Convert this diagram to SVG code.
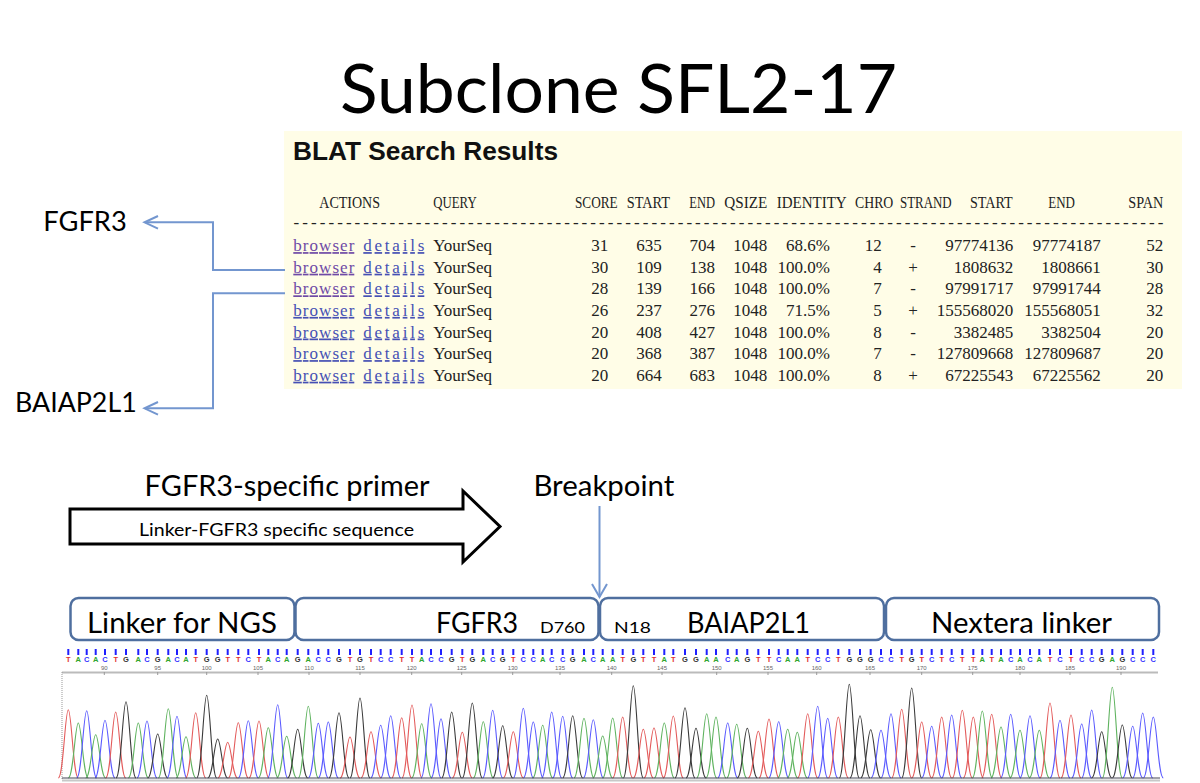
<svg xmlns="http://www.w3.org/2000/svg" xmlns:xlink="http://www.w3.org/1999/xlink" width="1200" height="783" viewBox="0 0 1200 783">
<style>
.cal{font-family:Lato,"Liberation Sans",sans-serif;fill:#000}
.tb{font-family:"Liberation Serif","Times New Roman",serif;font-size:17px;fill:#222}
.r{text-anchor:end}
.m{text-anchor:middle}
.lv{fill:#6f4aa6;text-decoration:underline}
.lb{fill:#4650b4;text-decoration:underline}
.conn{fill:none;stroke:#7396cf;stroke-width:2}
.box{fill:#fff;stroke:#4f6f9f;stroke-width:2.5}
.pa{stroke:#5fb35f}.pc{stroke:#5a5aff}.pg{stroke:#3a3a3a}.pt{stroke:#e35a5a}
.sq{font-family:"Liberation Sans",sans-serif;font-size:7.5px;font-weight:bold;text-anchor:middle}
.num{font-family:"Liberation Sans",sans-serif;font-size:6px;fill:#666;text-anchor:middle}
</style>
<defs>
<path id="pk" d="M-10 0C-5 0-3.2-1 0-1C3.2-1 5 0 10 0" fill="none" stroke-width="1.1" vector-effect="non-scaling-stroke"/>
</defs>
<rect width="1200" height="783" fill="#fff"/>

<g id="title"><text class="cal" x="340" y="113" font-size="68" textLength="557" lengthAdjust="spacingAndGlyphs">Subclone SFL2-17</text></g>

<g id="blat-table">
<rect x="284" y="131" width="898" height="258" fill="#fffde7"/>
<text x="293" y="160" font-family="Liberation Sans,Arial,sans-serif" font-weight="bold" font-size="25" fill="#111" textLength="265" lengthAdjust="spacingAndGlyphs">BLAT Search Results</text>
<g class="tb">
<text y="207.5" x="319.3" textLength="60.7" lengthAdjust="spacingAndGlyphs">ACTIONS</text>
<text y="207.5" x="433.3" textLength="43.4" lengthAdjust="spacingAndGlyphs">QUERY</text>
<text y="207.5" x="575" textLength="42.7" lengthAdjust="spacingAndGlyphs">SCORE</text>
<text y="207.5" x="626.7" textLength="43.3" lengthAdjust="spacingAndGlyphs">START</text>
<text y="207.5" x="689.3" textLength="25.7" lengthAdjust="spacingAndGlyphs">END</text>
<text y="207.5" x="724.3" textLength="43" lengthAdjust="spacingAndGlyphs">QSIZE</text>
<text y="207.5" x="776.7" textLength="70" lengthAdjust="spacingAndGlyphs">IDENTITY</text>
<text y="207.5" x="855" textLength="38.3" lengthAdjust="spacingAndGlyphs">CHRO</text>
<text y="207.5" x="900" textLength="51.7" lengthAdjust="spacingAndGlyphs">STRAND</text>
<text y="207.5" x="970" textLength="42.7" lengthAdjust="spacingAndGlyphs">START</text>
<text y="207.5" x="1048.3" textLength="26.7" lengthAdjust="spacingAndGlyphs">END</text>
<text y="207.5" x="1128.3" textLength="35" lengthAdjust="spacingAndGlyphs">SPAN</text>
<text y="228" x="293.5" textLength="870">----------------------------------------------------------------------------------------------------</text>
</g>
<g class="tb">
<text y="251.1"><tspan x="293.3" class="lv" textLength="61">browser</tspan><tspan x="363.3" class="lb" textLength="61">details</tspan><tspan x="433.3">YourSeq</tspan><tspan class="r" x="608.3">31</tspan><tspan class="r" x="661.7">635</tspan><tspan class="r" x="715">704</tspan><tspan class="r" x="767.3">1048</tspan><tspan class="r" x="830">68.6%</tspan><tspan class="r" x="881.7">12</tspan><tspan class="m" x="913">-</tspan><tspan class="r" x="1013.3">97774136</tspan><tspan class="r" x="1100.7">97774187</tspan><tspan class="r" x="1163.3">52</tspan></text>
<text y="272.7"><tspan x="293.3" class="lv" textLength="61">browser</tspan><tspan x="363.3" class="lb" textLength="61">details</tspan><tspan x="433.3">YourSeq</tspan><tspan class="r" x="608.3">30</tspan><tspan class="r" x="661.7">109</tspan><tspan class="r" x="715">138</tspan><tspan class="r" x="767.3">1048</tspan><tspan class="r" x="830">100.0%</tspan><tspan class="r" x="881.7">4</tspan><tspan class="m" x="913">+</tspan><tspan class="r" x="1013.3">1808632</tspan><tspan class="r" x="1100.7">1808661</tspan><tspan class="r" x="1163.3">30</tspan></text>
<text y="294.3"><tspan x="293.3" class="lv" textLength="61">browser</tspan><tspan x="363.3" class="lb" textLength="61">details</tspan><tspan x="433.3">YourSeq</tspan><tspan class="r" x="608.3">28</tspan><tspan class="r" x="661.7">139</tspan><tspan class="r" x="715">166</tspan><tspan class="r" x="767.3">1048</tspan><tspan class="r" x="830">100.0%</tspan><tspan class="r" x="881.7">7</tspan><tspan class="m" x="913">-</tspan><tspan class="r" x="1013.3">97991717</tspan><tspan class="r" x="1100.7">97991744</tspan><tspan class="r" x="1163.3">28</tspan></text>
<text y="315.9"><tspan x="293.3" class="lb" textLength="61">browser</tspan><tspan x="363.3" class="lb" textLength="61">details</tspan><tspan x="433.3">YourSeq</tspan><tspan class="r" x="608.3">26</tspan><tspan class="r" x="661.7">237</tspan><tspan class="r" x="715">276</tspan><tspan class="r" x="767.3">1048</tspan><tspan class="r" x="830">71.5%</tspan><tspan class="r" x="881.7">5</tspan><tspan class="m" x="913">+</tspan><tspan class="r" x="1013.3">155568020</tspan><tspan class="r" x="1100.7">155568051</tspan><tspan class="r" x="1163.3">32</tspan></text>
<text y="337.5"><tspan x="293.3" class="lb" textLength="61">browser</tspan><tspan x="363.3" class="lb" textLength="61">details</tspan><tspan x="433.3">YourSeq</tspan><tspan class="r" x="608.3">20</tspan><tspan class="r" x="661.7">408</tspan><tspan class="r" x="715">427</tspan><tspan class="r" x="767.3">1048</tspan><tspan class="r" x="830">100.0%</tspan><tspan class="r" x="881.7">8</tspan><tspan class="m" x="913">-</tspan><tspan class="r" x="1013.3">3382485</tspan><tspan class="r" x="1100.7">3382504</tspan><tspan class="r" x="1163.3">20</tspan></text>
<text y="359.1"><tspan x="293.3" class="lb" textLength="61">browser</tspan><tspan x="363.3" class="lb" textLength="61">details</tspan><tspan x="433.3">YourSeq</tspan><tspan class="r" x="608.3">20</tspan><tspan class="r" x="661.7">368</tspan><tspan class="r" x="715">387</tspan><tspan class="r" x="767.3">1048</tspan><tspan class="r" x="830">100.0%</tspan><tspan class="r" x="881.7">7</tspan><tspan class="m" x="913">-</tspan><tspan class="r" x="1013.3">127809668</tspan><tspan class="r" x="1100.7">127809687</tspan><tspan class="r" x="1163.3">20</tspan></text>
<text y="380.7"><tspan x="293.3" class="lb" textLength="61">browser</tspan><tspan x="363.3" class="lb" textLength="61">details</tspan><tspan x="433.3">YourSeq</tspan><tspan class="r" x="608.3">20</tspan><tspan class="r" x="661.7">664</tspan><tspan class="r" x="715">683</tspan><tspan class="r" x="767.3">1048</tspan><tspan class="r" x="830">100.0%</tspan><tspan class="r" x="881.7">8</tspan><tspan class="m" x="913">+</tspan><tspan class="r" x="1013.3">67225543</tspan><tspan class="r" x="1100.7">67225562</tspan><tspan class="r" x="1163.3">20</tspan></text>
</g>
</g>

<g id="label-fgfr3"><text class="cal" x="43.3" y="230.7" font-size="26" textLength="83.4" lengthAdjust="spacingAndGlyphs">FGFR3</text></g>
<g id="label-baiap2l1"><text class="cal" x="15" y="411.7" font-size="26" textLength="121.7" lengthAdjust="spacingAndGlyphs">BAIAP2L1</text></g>

<g id="primer">
<text class="cal" x="144.6" y="496" font-size="28" textLength="285" lengthAdjust="spacingAndGlyphs">FGFR3-specific primer</text>
<polygon points="70,509 463,509 463,491 500,526.5 463,562 463,544 70,544" fill="#fff" stroke="#000" stroke-width="3" stroke-linejoin="miter"/>
<text class="cal" x="139" y="536" font-size="17" textLength="275" lengthAdjust="spacingAndGlyphs">Linker-FGFR3 specific sequence</text>
</g>
<g id="breakpoint"><text class="cal" x="533.4" y="496" font-size="28" textLength="141" lengthAdjust="spacingAndGlyphs">Breakpoint</text></g>

<g id="box-linker"><rect class="box" x="70.5" y="598" width="224" height="42" rx="8"/><text class="cal" x="87" y="633" font-size="28" textLength="190" lengthAdjust="spacingAndGlyphs">Linker for NGS</text></g>
<g id="box-fgfr3"><rect class="box" x="295.5" y="598" width="303" height="42" rx="8"/><text class="cal" x="436" y="633" font-size="28" textLength="82" lengthAdjust="spacingAndGlyphs">FGFR3</text><text class="cal" x="540" y="633" font-size="16" textLength="45" lengthAdjust="spacingAndGlyphs">D760</text></g>
<g id="box-baiap2l1"><rect class="box" x="600" y="598" width="284" height="42" rx="8"/><text class="cal" x="614" y="633" font-size="16" textLength="37" lengthAdjust="spacingAndGlyphs">N18</text><text class="cal" x="687" y="633" font-size="28" textLength="123" lengthAdjust="spacingAndGlyphs">BAIAP2L1</text></g>
<g id="box-nextera"><rect class="box" x="886" y="598" width="273" height="42" rx="8"/><text class="cal" x="931" y="633" font-size="28" textLength="181" lengthAdjust="spacingAndGlyphs">Nextera linker</text></g>

<g id="connectors">
<path class="conn" d="M285 270H213V222.3H145"/>
<path class="conn" d="M158 216L144.5 222.3L158 228.6"/>
<path class="conn" d="M285 293.3H213V408.3H145"/>
<path class="conn" d="M158 402L144.5 408.3L158 414.6"/>
<path class="conn" stroke-width="1.6" d="M599.5 506V597"/>
<path class="conn" stroke-width="1.6" d="M592 584L599.5 597L607 584"/>
</g>

<g id="chromatogram">
<line x1="62" y1="672.5" x2="1158" y2="672.5" stroke="#bbb" stroke-width="2"/>
<line x1="62" y1="672" x2="62" y2="779" stroke="#999" stroke-width="1" stroke-dasharray="1 1"/>
<line x1="62" y1="780.5" x2="1160" y2="780.5" stroke="#c8c8c8" stroke-width="2"/>
<path stroke="#999" stroke-width="1" d="M104.3 672v3M157.7 672v3M206.7 672v3M258 672v3M309 672v3M360 672v3M411.7 672v3M461.7 672v3M512.7 672v3M560 672v3M611.7 672v3M662 672v3M716.7 672v3M768 672v3M816.7 672v3M870 672v3M921.7 672v3M972.7 672v3M1020 672v3M1070 672v3M1121 672v3"/>
<g class="num">
<text x="104.3" y="670">90</text><text x="157.7" y="670">95</text><text x="206.7" y="670">100</text><text x="258" y="670">105</text><text x="309" y="670">110</text><text x="360" y="670">115</text><text x="411.7" y="670">120</text><text x="461.7" y="670">125</text><text x="512.7" y="670">130</text><text x="560" y="670">135</text><text x="611.7" y="670">140</text><text x="662" y="670">145</text><text x="716.7" y="670">150</text><text x="768" y="670">155</text><text x="816.7" y="670">160</text><text x="870" y="670">165</text><text x="921.7" y="670">170</text><text x="972.7" y="670">175</text><text x="1020" y="670">180</text><text x="1070" y="670">185</text><text x="1121" y="670">190</text>
</g>
<path stroke="#2020ff" stroke-width="2" d="M68.3 649v6M78.3 649v6M86.7 649v6M95.7 649v6M105 649v6M115.7 649v6M126 649v6M138.3 649v6M147 649v6M157.7 649v6M168.3 649v6M177 649v6M186 649v6M195.7 649v6M206.7 649v6M217.7 649v6M227.7 649v6M238.3 649v6M248.3 649v6M259 649v6M268.3 649v6M277.7 649v6M286.7 649v6M297.7 649v6M308.3 649v6M318.3 649v6M328.3 649v6M339 649v6M350 649v6M360 649v6M371 649v6M380.7 649v6M390.7 649v6M401.7 649v6M412 649v6M421.7 649v6M431 649v6M441 649v6M451.7 649v6M462.3 649v6M472.3 649v6M483.3 649v6M492.7 649v6M502.7 649v6M513.3 649v6M523.3 649v6M533.3 649v6M542.7 649v6M551.7 649v6M562.7 649v6M572.7 649v6M584 649v6M593.3 649v6M602.7 649v6M612.7 649v6M622.7 649v6M633.3 649v6M643.3 649v6M654 649v6M664.3 649v6M673.3 649v6M685 649v6M696 649v6M706.7 649v6M716 649v6M727.7 649v6M736.7 649v6M747.3 649v6M758.3 649v6M769 649v6M778.7 649v6M787.7 649v6M797.3 649v6M807.7 649v6M817.7 649v6M827.7 649v6M838.3 649v6M849.3 649v6M860 649v6M870.7 649v6M881 649v6M891 649v6M901.7 649v6M911.7 649v6M921.7 649v6M931.7 649v6M941.7 649v6M951.7 649v6M962.3 649v6M973.3 649v6M982.3 649v6M991.7 649v6M1001 649v6M1010.7 649v6M1020 649v6M1030 649v6M1039.3 649v6M1050 649v6M1060 649v6M1071 649v6M1081.7 649v6M1091.7 649v6M1101.7 649v6M1112.3 649v6M1122.3 649v6M1132.7 649v6M1142.7 649v6M1153.3 649v6"/>
<text class="sq" fill="#2fa52f" y="662" x="78.3 95.7 138.3 168.3 186 268.3 286.7 308.3 421.7 483.3 542.7 584 602.7 612.7 664.3 706.7 716 736.7 787.7 797.3 982.3 1001 1020 1039.3 1112.3">AAAAAAAAAAAAAAAAAAAAAAAAA</text>
<text class="sq" fill="#3333ff" y="662" x="86.7 105 147 177 248.3 277.7 318.3 328.3 380.7 390.7 431 441 492.7 523.3 533.3 551.7 562.7 593.3 727.7 778.7 817.7 827.7 881 891 931.7 951.7 1010.7 1030 1060 1081.7 1091.7 1132.7 1142.7 1153.3">CCCCCCCCCCCCCCCCCCCCCCCCCCCCCCCCCC</text>
<text class="sq" fill="#333" y="662" x="126 157.7 206.7 217.7 297.7 339 360 451.7 472.3 502.7 572.7 633.3 685 696 747.3 849.3 860 870.7 911.7 1101.7 1122.3">GGGGGGGGGGGGGGGGGGGGG</text>
<text class="sq" fill="#e23030" y="662" x="68.3 115.7 195.7 227.7 238.3 259 350 371 401.7 412 462.3 513.3 622.7 643.3 654 673.3 758.3 769 807.7 838.3 901.7 921.7 941.7 962.3 973.3 991.7 1050 1071">TTTTTTTTTTTTTTTTTTTTTTTTTTTT</text>
<g id="peaks">
<use href="#pk" class="pt" transform="translate(68.3 778) scale(1 68.3)"/>
<use href="#pk" class="pa" transform="translate(78.3 778) scale(1 55)"/>
<use href="#pk" class="pc" transform="translate(86.7 778) scale(1 67.3)"/>
<use href="#pk" class="pa" transform="translate(95.7 778) scale(1 43.3)"/>
<use href="#pk" class="pc" transform="translate(105 778) scale(1 57.7)"/>
<use href="#pk" class="pt" transform="translate(115.7 778) scale(1 66)"/>
<use href="#pk" class="pg" transform="translate(126 778) scale(1 76.3)"/>
<use href="#pk" class="pa" transform="translate(138.3 778) scale(1 55)"/>
<use href="#pk" class="pc" transform="translate(147 778) scale(1 57)"/>
<use href="#pk" class="pg" transform="translate(157.7 778) scale(1 44)"/>
<use href="#pk" class="pa" transform="translate(168.3 778) scale(1 69.3)"/>
<use href="#pk" class="pc" transform="translate(177 778) scale(1 61.7)"/>
<use href="#pk" class="pa" transform="translate(186 778) scale(1 41.3)"/>
<use href="#pk" class="pt" transform="translate(195.7 778) scale(1 65.3)"/>
<use href="#pk" class="pg" transform="translate(206.7 778) scale(1 82.7)"/>
<use href="#pk" class="pg" transform="translate(217.7 778) scale(1 39)"/>
<use href="#pk" class="pt" transform="translate(227.7 778) scale(1 35.7)"/>
<use href="#pk" class="pt" transform="translate(238.3 778) scale(1 55.3)"/>
<use href="#pk" class="pc" transform="translate(248.3 778) scale(1 57.3)"/>
<use href="#pk" class="pt" transform="translate(259 778) scale(1 57)"/>
<use href="#pk" class="pa" transform="translate(268.3 778) scale(1 50.3)"/>
<use href="#pk" class="pc" transform="translate(277.7 778) scale(1 73.3)"/>
<use href="#pk" class="pa" transform="translate(286.7 778) scale(1 41.7)"/>
<use href="#pk" class="pg" transform="translate(297.7 778) scale(1 48.7)"/>
<use href="#pk" class="pa" transform="translate(308.3 778) scale(1 71.7)"/>
<use href="#pk" class="pc" transform="translate(318.3 778) scale(1 54.7)"/>
<use href="#pk" class="pc" transform="translate(328.3 778) scale(1 56)"/>
<use href="#pk" class="pg" transform="translate(339 778) scale(1 65.3)"/>
<use href="#pk" class="pt" transform="translate(350 778) scale(1 41)"/>
<use href="#pk" class="pg" transform="translate(360 778) scale(1 80)"/>
<use href="#pk" class="pt" transform="translate(371 778) scale(1 46.3)"/>
<use href="#pk" class="pc" transform="translate(380.7 778) scale(1 52.7)"/>
<use href="#pk" class="pc" transform="translate(390.7 778) scale(1 62.3)"/>
<use href="#pk" class="pt" transform="translate(401.7 778) scale(1 60.3)"/>
<use href="#pk" class="pt" transform="translate(412 778) scale(1 73)"/>
<use href="#pk" class="pa" transform="translate(421.7 778) scale(1 54.3)"/>
<use href="#pk" class="pc" transform="translate(431 778) scale(1 74.3)"/>
<use href="#pk" class="pc" transform="translate(441 778) scale(1 59.3)"/>
<use href="#pk" class="pg" transform="translate(451.7 778) scale(1 66)"/>
<use href="#pk" class="pt" transform="translate(462.3 778) scale(1 45.7)"/>
<use href="#pk" class="pg" transform="translate(472.3 778) scale(1 75)"/>
<use href="#pk" class="pa" transform="translate(483.3 778) scale(1 56.3)"/>
<use href="#pk" class="pc" transform="translate(492.7 778) scale(1 67.7)"/>
<use href="#pk" class="pg" transform="translate(502.7 778) scale(1 52.3)"/>
<use href="#pk" class="pt" transform="translate(513.3 778) scale(1 46.3)"/>
<use href="#pk" class="pc" transform="translate(523.3 778) scale(1 69.7)"/>
<use href="#pk" class="pc" transform="translate(533.3 778) scale(1 56)"/>
<use href="#pk" class="pa" transform="translate(542.7 778) scale(1 52.7)"/>
<use href="#pk" class="pc" transform="translate(551.7 778) scale(1 66)"/>
<use href="#pk" class="pc" transform="translate(562.7 778) scale(1 61.7)"/>
<use href="#pk" class="pg" transform="translate(572.7 778) scale(1 62.3)"/>
<use href="#pk" class="pa" transform="translate(584 778) scale(1 59.7)"/>
<use href="#pk" class="pc" transform="translate(593.3 778) scale(1 58.3)"/>
<use href="#pk" class="pa" transform="translate(602.7 778) scale(1 42)"/>
<use href="#pk" class="pa" transform="translate(612.7 778) scale(1 60)"/>
<use href="#pk" class="pt" transform="translate(622.7 778) scale(1 61)"/>
<use href="#pk" class="pg" transform="translate(633.3 778) scale(1 92.3)"/>
<use href="#pk" class="pt" transform="translate(643.3 778) scale(1 48.7)"/>
<use href="#pk" class="pt" transform="translate(654 778) scale(1 50)"/>
<use href="#pk" class="pa" transform="translate(664.3 778) scale(1 55)"/>
<use href="#pk" class="pt" transform="translate(673.3 778) scale(1 62)"/>
<use href="#pk" class="pg" transform="translate(685 778) scale(1 70.3)"/>
<use href="#pk" class="pg" transform="translate(696 778) scale(1 49.7)"/>
<use href="#pk" class="pa" transform="translate(706.7 778) scale(1 64.3)"/>
<use href="#pk" class="pa" transform="translate(716 778) scale(1 61)"/>
<use href="#pk" class="pc" transform="translate(727.7 778) scale(1 55)"/>
<use href="#pk" class="pa" transform="translate(736.7 778) scale(1 53.7)"/>
<use href="#pk" class="pg" transform="translate(747.3 778) scale(1 49.7)"/>
<use href="#pk" class="pt" transform="translate(758.3 778) scale(1 46.7)"/>
<use href="#pk" class="pt" transform="translate(769 778) scale(1 59)"/>
<use href="#pk" class="pc" transform="translate(778.7 778) scale(1 56.3)"/>
<use href="#pk" class="pa" transform="translate(787.7 778) scale(1 48.7)"/>
<use href="#pk" class="pa" transform="translate(797.3 778) scale(1 45.7)"/>
<use href="#pk" class="pt" transform="translate(807.7 778) scale(1 64.3)"/>
<use href="#pk" class="pc" transform="translate(817.7 778) scale(1 71.7)"/>
<use href="#pk" class="pc" transform="translate(827.7 778) scale(1 59.7)"/>
<use href="#pk" class="pt" transform="translate(838.3 778) scale(1 61)"/>
<use href="#pk" class="pg" transform="translate(849.3 778) scale(1 93.7)"/>
<use href="#pk" class="pg" transform="translate(860 778) scale(1 62.3)"/>
<use href="#pk" class="pg" transform="translate(870.7 778) scale(1 48.3)"/>
<use href="#pk" class="pc" transform="translate(881 778) scale(1 47.7)"/>
<use href="#pk" class="pc" transform="translate(891 778) scale(1 64.3)"/>
<use href="#pk" class="pt" transform="translate(901.7 778) scale(1 68.7)"/>
<use href="#pk" class="pg" transform="translate(911.7 778) scale(1 90)"/>
<use href="#pk" class="pt" transform="translate(921.7 778) scale(1 56)"/>
<use href="#pk" class="pc" transform="translate(931.7 778) scale(1 51.7)"/>
<use href="#pk" class="pt" transform="translate(941.7 778) scale(1 61)"/>
<use href="#pk" class="pc" transform="translate(951.7 778) scale(1 63)"/>
<use href="#pk" class="pt" transform="translate(962.3 778) scale(1 67.7)"/>
<use href="#pk" class="pt" transform="translate(973.3 778) scale(1 61)"/>
<use href="#pk" class="pa" transform="translate(982.3 778) scale(1 67)"/>
<use href="#pk" class="pt" transform="translate(991.7 778) scale(1 63.7)"/>
<use href="#pk" class="pa" transform="translate(1001 778) scale(1 51)"/>
<use href="#pk" class="pc" transform="translate(1010.7 778) scale(1 63.7)"/>
<use href="#pk" class="pa" transform="translate(1020 778) scale(1 47.7)"/>
<use href="#pk" class="pc" transform="translate(1030 778) scale(1 62.3)"/>
<use href="#pk" class="pa" transform="translate(1039.3 778) scale(1 47.7)"/>
<use href="#pk" class="pt" transform="translate(1050 778) scale(1 75)"/>
<use href="#pk" class="pc" transform="translate(1060 778) scale(1 57.7)"/>
<use href="#pk" class="pt" transform="translate(1071 778) scale(1 63)"/>
<use href="#pk" class="pc" transform="translate(1081.7 778) scale(1 54)"/>
<use href="#pk" class="pc" transform="translate(1091.7 778) scale(1 68)"/>
<use href="#pk" class="pg" transform="translate(1101.7 778) scale(1 46.3)"/>
<use href="#pk" class="pa" transform="translate(1112.3 778) scale(1 90.7)"/>
<use href="#pk" class="pg" transform="translate(1122.3 778) scale(1 53)"/>
<use href="#pk" class="pc" transform="translate(1132.7 778) scale(1 51.7)"/>
<use href="#pk" class="pc" transform="translate(1142.7 778) scale(1 65)"/>
<use href="#pk" class="pc" transform="translate(1153.3 778) scale(1 61)"/>
</g>
<line x1="62" y1="778" x2="1160" y2="778" stroke="#445" stroke-width="1"/>
</g>
</svg>
